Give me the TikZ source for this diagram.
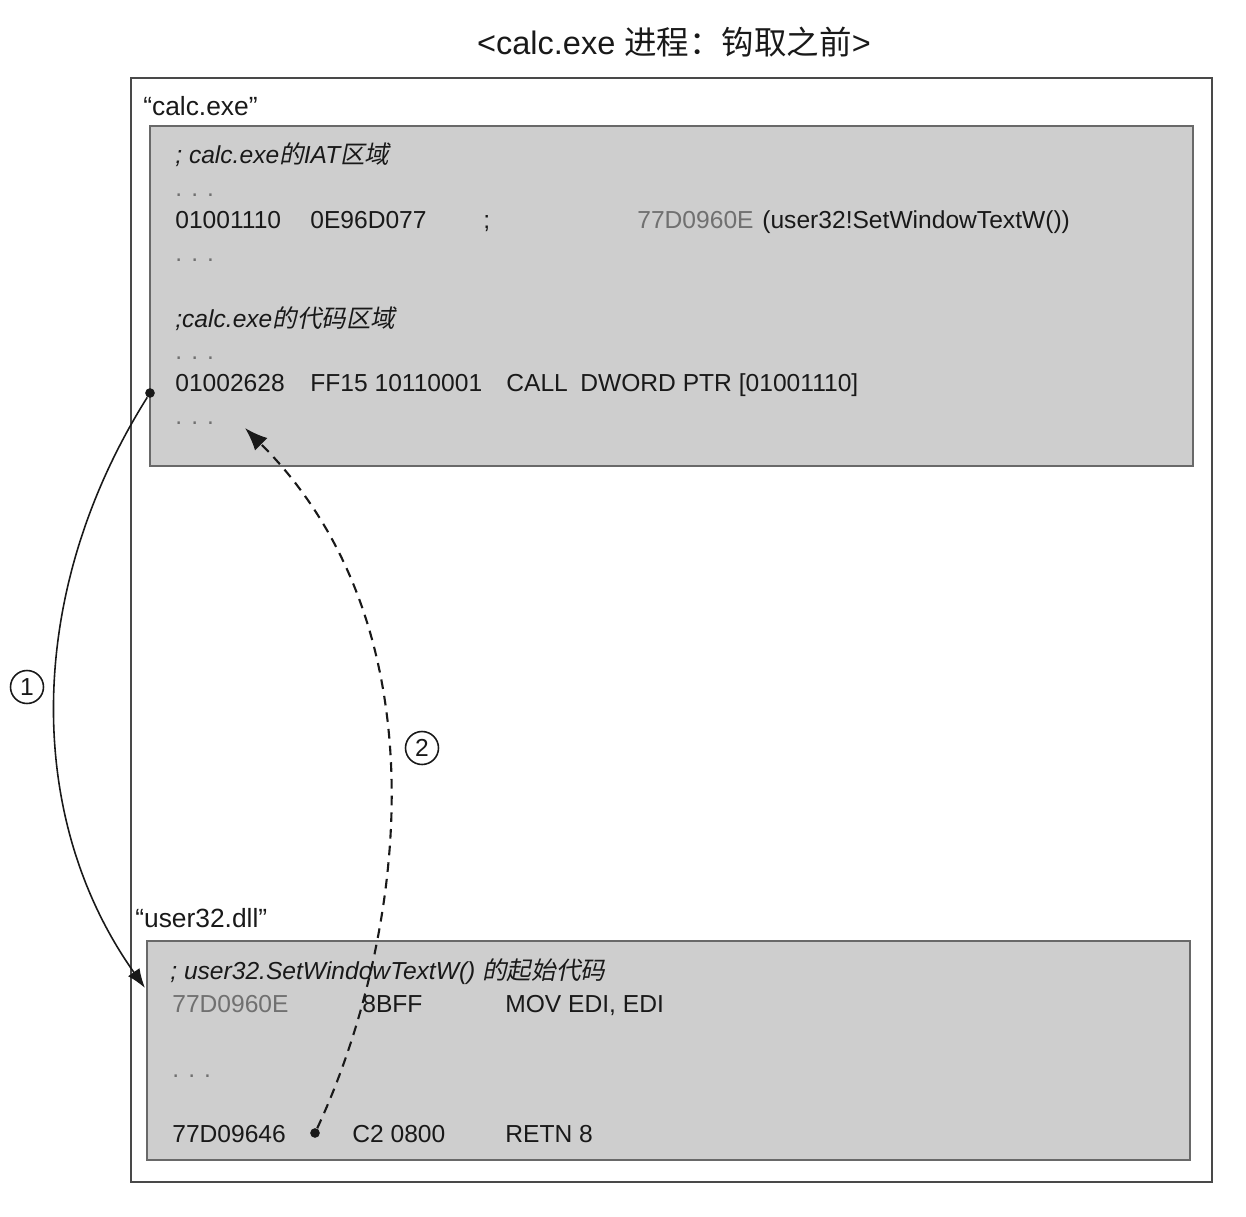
\documentclass[tikz,border=0pt]{standalone}
\usepackage{fontspec}
\setmainfont{Liberation Sans}
\newfontfamily\cjk{Noto Sans CJK SC}
\newfontfamily\cjkit[FakeSlant=0.2]{Noto Sans CJK SC}
\usetikzlibrary{arrows.meta}
\definecolor{boxGray}{RGB}{206,206,206}
\definecolor{frameGray}{RGB}{105,105,105}
\definecolor{addrGray}{RGB}{112,112,112}
\definecolor{inkBlack}{RGB}{25,25,25}

\begin{document}
\begin{tikzpicture}[x=0.02cm,y=-0.02cm,
                code/.style={anchor=base west,inner sep=0pt,font=\fontsize{14}{16}\selectfont,text=inkBlack},
                note/.style={code,font=\fontsize{14}{16}\selectfont\itshape},
                gap/.style={code,text=addrGray},
                area/.style={draw=frameGray,fill=boxGray,line width=0.8pt},
                hook/.style={circle,fill=inkBlack,inner sep=0pt,minimum size=5.5pt},
                numlabel/.style={circle,draw=inkBlack,line width=0.9pt,inner sep=0pt,minimum size=0.66cm,
                           font=\fontsize{14}{16}\selectfont,text=inkBlack},
                flow/.style={draw=inkBlack,line width=0.9pt,-{Latex[length=11pt,width=8pt]}},
                flowback/.style={draw=inkBlack,line width=1.2pt,dash pattern=on 5.5pt off 4pt,
                           -{Latex[length=13pt,width=10pt]}}
            ]
                \useasboundingbox (0,0) rectangle (1246,1216);
                % title and process frame
                \node[font=\fontsize{18.5}{20}\selectfont,text=inkBlack] (title) at (674,42) {<calc.exe {\cjk 进程：钩取之前}>};
                \draw[frameGray!70!black,line width=1pt] (131,78) rectangle (1212,1182);
                \node[code,font=\fontsize{15}{17}\selectfont] (calcLbl) at (143,116) {“calc.exe”};
                \node[code,font=\fontsize{15}{17}\selectfont] (userLbl) at (135,927) {“user32.dll”};
                % calc.exe module
                \draw[area] (150,126) rectangle (1193,466);
                \node[note] (iatNote) at (175,164) {; calc.exe{\cjkit 的}IAT{\cjkit 区域}};
                \node[gap] (iatGapA) at (175,197) {. . .};
                \node[code] (iatAddr) at (175,229) {01001110};
                \node[code] (iatVal) at (310,229) {0E96D077};
                \node[code] (iatSemi) at (483,229) {;};
                \node[code,text=addrGray] (iatTarget) at (637,229) {77D0960E};
                \node[code] (iatName) at (762,229) {(user32!SetWindowTextW())};
                \node[gap] (iatGapB) at (175,262) {. . .};
                \node[note] (codeNote) at (175,327) {;calc.exe{\cjkit 的代码区域}};
                \node[gap] (codeGapA) at (175,359) {. . .};
                \node[code] (callAddr) at (175,391) {01002628};
                \node[code] (callHex) at (310,391) {FF15 10110001};
                \node[code] (callOp) at (506,391) {CALL};
                \node[code] (callArg) at (580,391) {DWORD PTR [01001110]};
                \node[gap] (codeGapB) at (175,424) {. . .};
                % user32.dll module
                \draw[area] (147,941) rectangle (1190,1160);
                \node[note] (userNote) at (170,979) {; user32.SetWindowTextW() {\cjkit 的起始代码}};
                \node[code,text=addrGray] (movAddr) at (172,1012) {77D0960E};
                \node[code] (movHex) at (362,1012) {8BFF};
                \node[code] (movOp) at (505,1012) {MOV EDI, EDI};
                \node[gap] (userGap) at (172,1077) {. . .};
                \node[code] (retnAddr) at (172,1142) {77D09646};
                \node[code] (retnHex) at (352,1142) {C2 0800};
                \node[code] (retnOp) at (505,1142) {RETN 8};
                % jumps
                \node[hook] (callDot) at (150,393) {};
                \node[hook] (retnDot) at (315,1133) {};
                \coordinate (userEntry) at (145,988);
                \coordinate (afterCall) at (245,428);
                \draw[flow] (callDot) .. controls (26,590) and (23,816) .. (userEntry);
                \draw[flowback] (retnDot) .. controls (400,951) and (452,635) .. (afterCall);
                \node[numlabel] (stepOne) at (27,687) {1};
                \node[numlabel] (stepTwo) at (422,748) {2};
            \end{tikzpicture}
\end{document}
